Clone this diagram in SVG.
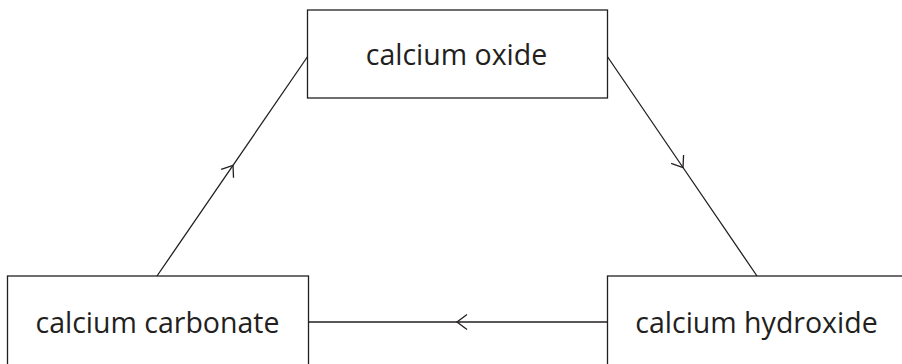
<svg xmlns="http://www.w3.org/2000/svg" width="902" height="364" viewBox="0 0 902 364">
<style>
.box{fill:#fff;stroke:#231f20;stroke-width:1.3}
.lbl{font-family:"Open Sans","Noto Sans","Liberation Sans",sans-serif;font-size:28.5px;fill:#231f20;text-anchor:middle}
.con{fill:none;stroke:#231f20;stroke-width:1.3}
</style>
<defs>
<marker id="chev" markerUnits="userSpaceOnUse" markerWidth="24" markerHeight="24" refX="0" refY="0" viewBox="-12 -12 24 24" orient="auto" overflow="visible">
<path d="M -10 -7.5 L 0 0 L -10 7.5" fill="none" stroke="#231f20" stroke-width="1.3"/>
</marker>
</defs>
<g id="connectors">
<path class="con" d="M 157 276 L 233 165.3 L 308 56" marker-mid="url(#chev)"/>
<path class="con" d="M 607 56 L 683 167.5 L 757 276" marker-mid="url(#chev)"/>
<path class="con" d="M 607 322 L 457 322 L 308 322" marker-mid="url(#chev)"/>
</g>
<g id="oxide">
<rect class="box" x="307.5" y="10" width="300" height="88"/>
<text class="lbl" x="456.5" y="65">calcium oxide</text>
</g>
<g id="carbonate">
<rect class="box" x="7.5" y="276" width="301" height="100"/>
<text class="lbl" x="157.5" y="333">calcium carbonate</text>
</g>
<g id="hydroxide">
<rect class="box" x="607.5" y="276" width="310" height="100"/>
<text class="lbl" x="756.5" y="333">calcium hydroxide</text>
</g>
</svg>
